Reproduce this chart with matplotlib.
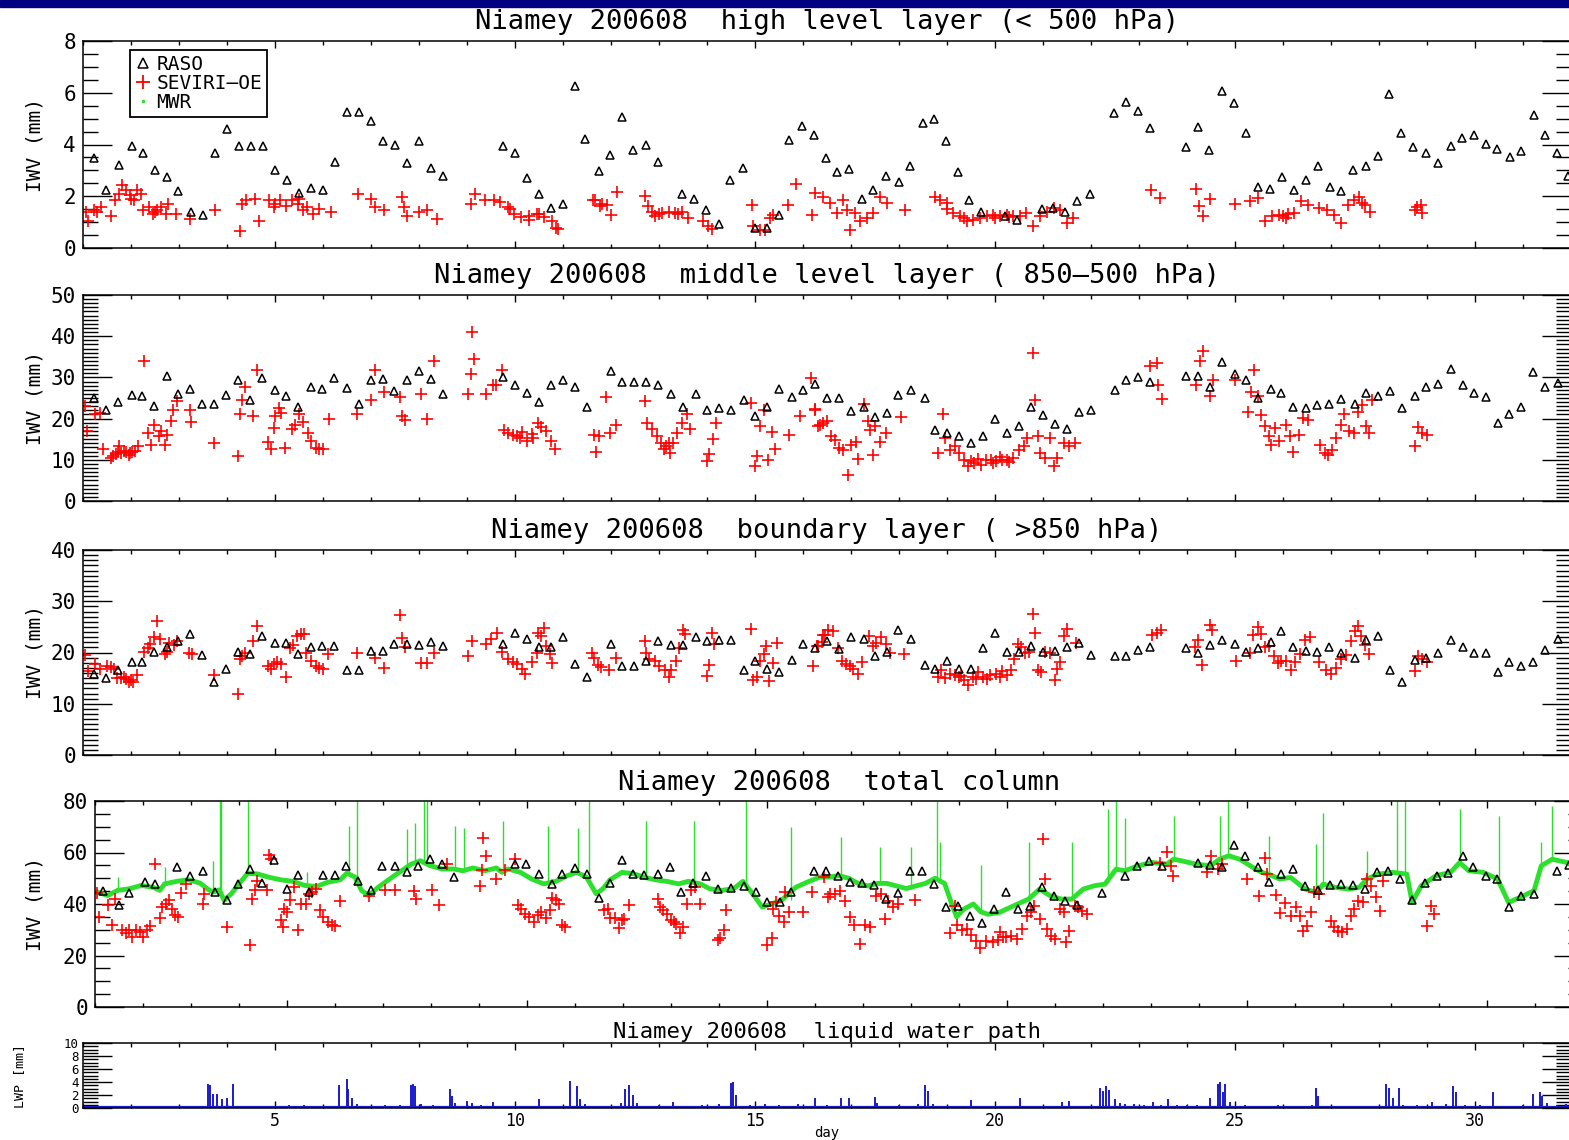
import numpy as np
import matplotlib.pyplot as plt
import matplotlib.transforms as mtransforms
from matplotlib.lines import Line2D
from matplotlib.patches import Rectangle
from matplotlib.ticker import MultipleLocator

plt.rcParams['font.family'] = ['DejaVu Sans Mono', 'DejaVu Sans']

# ---------------- data (day of August 2006, mm) ----------------
# high level layer (< 500 hPa)
hi_raso_day = [1.22, 1.48, 1.74, 2.02, 2.24, 2.49, 2.74, 2.98, 3.25, 3.5,
               3.74, 4.0, 4.25, 4.5, 4.74, 4.99, 5.25, 5.5, 5.76, 6.0,
               6.25, 6.5, 6.75, 7.0, 7.24, 7.5, 7.76, 8.0, 8.25, 8.5,
               9.74, 10.0, 10.25, 10.5, 10.75, 11.0, 11.24, 11.46, 11.74, 11.98,
               12.22, 12.46, 12.73, 12.97, 13.47, 13.73, 13.98, 14.24, 14.48, 14.74,
               15.0, 15.24, 15.5, 15.71, 15.97, 16.23, 16.48, 16.71, 16.96, 17.22,
               17.46, 17.73, 17.99, 18.23, 18.49, 18.73, 18.97, 19.22, 19.46, 19.71,
               20.21, 20.45, 20.97, 21.21, 21.46, 21.71, 21.98, 22.47, 22.73, 22.98,
               23.22, 23.98, 24.22, 24.46, 24.73, 24.98, 25.23, 25.47, 25.73, 25.98,
               26.23, 26.48, 26.73, 26.97, 27.21, 27.46, 27.72, 27.98, 28.21, 28.46,
               28.71, 28.98, 29.23, 29.5, 29.72, 29.97, 30.22, 30.46, 30.73, 30.96,
               31.22, 31.46, 31.71, 31.94]
hi_raso_val = [3.49, 2.26, 3.2, 3.95, 3.68, 3.03, 2.74, 2.2, 1.41, 1.29,
               3.66, 4.6, 3.95, 3.95, 3.95, 3.03, 2.63, 2.13, 2.3, 2.24,
               3.33, 5.26, 5.24, 4.9, 4.14, 3.99, 3.29, 4.14, 3.09, 2.8,
               3.95, 3.66, 2.7, 2.1, 1.55, 1.71, 6.25, 4.21, 2.96, 3.6,
               5.08, 3.77, 3.99, 3.31, 2.1, 1.89, 1.45, 0.94, 2.64, 3.09,
               0.77, 0.77, 1.29, 4.18, 4.72, 4.37, 3.47, 2.92, 3.05, 1.9,
               2.23, 2.77, 2.57, 3.15, 4.85, 4.98, 4.12, 2.92, 1.86, 1.38,
               1.22, 1.09, 1.5, 1.54, 1.38, 1.8, 2.1, 5.23, 5.63, 5.31,
               4.63, 3.92, 4.67, 3.77, 6.08, 5.62, 4.44, 2.35, 2.29, 2.74,
               2.25, 2.64, 3.18, 2.35, 2.19, 3.0, 3.15, 3.54, 5.95, 4.44,
               3.92, 3.67, 3.28, 3.95, 4.24, 4.37, 4.03, 3.83, 3.5, 3.73,
               5.14, 4.37, 3.69, 2.77]
hi_sev_day = [1.06, 1.1, 1.22, 1.38, 1.58, 1.66, 1.74, 1.82, 1.9, 1.98,
              2.06, 2.12, 2.26, 2.38, 2.46, 2.54, 2.62, 2.72, 2.78, 2.94,
              3.22, 3.75, 4.27, 4.31, 4.39, 4.59, 4.67, 4.87, 4.97, 5.11,
              5.23, 5.35, 5.47, 5.59, 5.67, 5.8, 5.92, 6.16, 6.72, 7.0,
              7.08, 7.28, 7.64, 7.68, 7.76, 8.0, 8.16, 8.37, 9.09, 9.17,
              9.37, 9.57, 9.69, 9.85, 9.97, 10.13, 10.29, 10.45, 10.61, 10.77,
              10.86, 10.9, 11.66, 11.82, 1.3, 2.0, 2.2, 2.5, 5.0, 5.5,
              9.9, 10.3, 10.5, 11.63, 11.77, 11.91, 12.01, 12.12, 12.71, 12.78,
              12.92, 13.06, 13.2, 13.33, 13.47, 13.61, 13.92, 14.03, 14.1, 14.93,
              14.96, 15.1, 15.21, 15.31, 15.38, 15.69, 15.86, 16.18, 16.25, 16.42,
              16.56, 16.7, 16.83, 16.91, 16.98, 17.08, 17.19, 17.33, 17.46, 17.6,
              17.74, 18.13, 18.75, 18.85, 18.99, 19.13, 19.27, 19.41, 19.55, 19.69,
              19.83, 19.96, 20.1, 20.24, 20.38, 20.52, 20.65, 20.79, 20.94, 21.08,
              21.22, 21.35, 21.49, 21.63, 23.24, 23.43, 24.19, 24.26, 24.33, 24.48,
              25.01, 25.32, 25.47, 25.62, 25.77, 25.92, 26.07, 26.23, 26.38, 26.53,
              26.75, 26.91, 27.06, 27.21, 27.36, 27.48, 27.59, 27.7, 27.81, 28.76,
              28.87, 28.9, 12.85, 13.0, 13.4, 19.0, 19.35, 20.0, 20.3, 26.0,
              26.1, 27.65, 28.8]
hi_sev_val = [1.38, 1.05, 1.45, 1.58, 1.25, 1.84, 2.1, 2.43, 2.24, 2.04,
              1.84, 2.24, 1.45, 1.58, 1.32, 1.45, 1.58, 1.32, 1.71, 1.32,
              1.12, 1.45, 0.66, 1.71, 1.84, 1.91, 1.05, 1.84, 1.58, 1.84,
              1.64, 1.84, 1.71, 1.45, 1.58, 1.32, 1.51, 1.38, 2.1, 1.91,
              1.58, 1.45, 1.97, 1.58, 1.25, 1.38, 1.45, 1.12, 1.71, 2.1,
              1.84, 1.84, 1.78, 1.58, 1.32, 1.18, 1.25, 1.32, 1.18, 1.05,
              0.79, 0.72, 1.84, 1.71, 1.4, 1.9, 2.1, 1.4, 1.7, 1.9,
              1.5, 1.1, 1.3, 1.86, 1.61, 1.67, 1.29, 2.15, 2.0, 1.61,
              1.22, 1.35, 1.41, 1.35, 1.41, 1.16, 1.03, 0.84, 0.73, 1.67,
              0.84, 0.71, 0.71, 1.16, 1.29, 1.67, 2.47, 1.29, 2.12, 1.99,
              1.74, 1.35, 1.86, 1.48, 0.68, 1.35, 1.03, 1.16, 1.35, 1.99,
              1.74, 1.45, 1.99, 1.86, 1.74, 1.35, 1.22, 1.03, 1.09, 1.16,
              1.22, 1.29, 1.22, 1.29, 1.25, 1.22, 1.35, 0.84, 1.22, 1.41,
              1.54, 1.48, 0.96, 1.16, 2.25, 1.93, 2.28, 1.61, 1.25, 1.89,
              1.71, 1.8, 1.93, 1.03, 1.22, 1.29, 1.16, 1.35, 1.8, 1.67,
              1.54, 1.48, 1.29, 0.96, 1.67, 1.86, 1.99, 1.67, 1.41, 1.48,
              1.67, 1.35, 1.4, 1.3, 1.3, 1.5, 1.15, 1.15, 1.2, 1.25,
              1.3, 1.75, 1.6]

# middle level layer (850-500 hPa)
mid_raso_day = [1.22, 1.48, 1.72, 2.02, 2.22, 2.48, 2.75, 2.98, 3.23, 3.48,
                3.72, 3.98, 4.23, 4.48, 4.73, 5.0, 5.23, 5.48, 5.75, 5.98,
                6.23, 6.5, 6.75, 7.0, 7.25, 7.48, 7.75, 8.0, 8.25, 8.5,
                9.75, 10.0, 10.25, 10.5, 10.75, 11.0, 11.25, 11.5, 12.0, 12.23,
                12.48, 12.73, 12.98, 13.25, 13.5, 13.77, 14.0, 14.25, 14.5, 14.77,
                15.0, 15.25, 15.5, 15.77, 16.0, 16.25, 16.49, 16.75, 17.0, 17.27,
                17.5, 17.74, 17.98, 18.26, 18.54, 18.76, 19.0, 19.25, 19.5, 19.75,
                20.0, 20.25, 20.5, 20.75, 21.0, 21.24, 21.49, 21.74, 21.99, 22.49,
                22.73, 22.98, 23.23, 23.98, 24.22, 24.47, 24.72, 25.0, 25.22, 25.47,
                25.74, 25.96, 26.21, 26.48, 26.71, 26.96, 27.21, 27.49, 27.72, 27.98,
                28.22, 28.48, 28.75, 28.98, 29.22, 29.5, 29.74, 29.97, 30.22, 30.47,
                30.71, 30.96, 31.2, 31.46, 31.73]
mid_raso_val = [25.0, 22.0, 24.0, 25.8, 25.4, 23.1, 30.4, 26.0, 27.2, 23.6,
                23.6, 25.8, 29.3, 24.6, 29.8, 26.9, 25.6, 22.8, 27.7, 27.2,
                29.8, 27.4, 23.6, 29.4, 29.6, 26.6, 29.4, 31.5, 29.6, 26.0,
                30.1, 28.1, 26.2, 24.0, 28.2, 29.3, 27.7, 22.8, 31.5, 29.0,
                29.0, 29.0, 28.2, 26.0, 22.8, 26.0, 22.0, 22.6, 22.0, 24.6,
                20.6, 22.8, 27.2, 25.2, 26.9, 28.4, 25.1, 25.1, 21.9, 22.7,
                20.5, 21.4, 25.7, 26.9, 25.1, 17.3, 16.6, 15.7, 14.1, 15.7,
                19.8, 16.6, 18.1, 22.9, 20.9, 18.7, 17.4, 21.7, 22.2, 26.9,
                29.3, 30.0, 28.9, 30.3, 30.3, 27.7, 33.7, 30.9, 29.3, 24.9,
                27.3, 26.1, 22.9, 22.5, 23.3, 23.5, 24.7, 23.5, 26.3, 25.5,
                26.7, 22.5, 25.5, 27.6, 28.5, 32.0, 28.1, 26.1, 25.3, 18.9,
                21.1, 22.9, 31.3, 27.7, 28.7]
mid_sev_day = [1.05, 1.08, 1.25, 1.35, 1.42, 1.58, 1.68, 1.75, 1.8, 1.9,
               1.98, 2.08, 2.15, 2.28, 2.35, 2.42, 2.48, 2.58, 2.62, 2.7,
               2.75, 2.83, 2.88, 2.95, 3.23, 3.25, 3.72, 4.23, 4.28, 4.32,
               4.38, 4.55, 4.63, 4.85, 4.92, 4.98, 5.0, 5.08, 5.12, 5.2,
               5.35, 5.42, 5.5, 5.58, 5.68, 5.75, 5.85, 5.92, 6.0, 6.13,
               6.7, 7.0, 7.08, 7.28, 7.6, 7.65, 7.7, 8.05, 8.17, 8.32,
               9.03, 9.08, 9.1, 9.15, 9.4, 9.55, 9.6, 9.73, 9.78, 9.85,
               9.95, 10.05, 10.15, 10.25, 10.38, 10.48, 10.55, 10.65, 10.75, 10.83,
               11.65, 11.68, 11.75, 11.9, 11.98, 12.1, 12.7, 12.75, 12.85, 12.95,
               13.05, 13.15, 13.22, 13.3, 13.38, 13.48, 13.58, 13.65, 14.0, 14.05,
               14.13, 14.18, 14.92, 15.0, 15.05, 15.1, 15.18, 15.28, 15.35, 15.42,
               15.7, 15.93, 16.17, 16.25, 16.35,
               16.26, 16.31, 16.41, 16.51, 16.59, 16.66, 16.76, 16.83, 16.93, 17.0,
               17.1, 17.15, 17.28, 17.35, 17.4, 17.45, 17.5, 17.6, 17.72, 18.05,
               18.81, 18.91, 18.96, 19.06, 19.16, 19.26, 19.36, 19.44, 19.56, 19.71,
               19.81, 19.91, 20.03, 20.15, 20.25, 20.37, 20.5, 20.6, 20.67, 20.8,
               20.84, 20.9, 20.94, 21.04, 21.14, 21.22, 21.29, 21.44, 21.54, 21.66,
               23.23, 23.37, 23.4, 23.48, 24.18, 24.28, 24.33, 24.47, 24.54, 25.0,
               25.27, 25.34, 25.4, 25.47, 25.54, 25.62, 25.7, 25.76, 25.84, 25.92,
               26.07, 26.14, 26.2, 26.34, 26.42, 26.52, 26.77, 26.87, 26.94, 27.02,
               27.1, 27.2, 27.27, 27.37, 27.47, 27.57, 27.64, 27.72, 27.8, 27.86,
               28.75, 28.82, 28.9, 29.0,
               19.5, 19.65, 19.95, 20.1, 20.3, 1.62, 1.72, 1.85, 1.95, 2.02,
               10.1, 10.35, 13.1, 13.2]
mid_sev_val = [23.0, 16.9, 21.0, 21.4, 12.7, 10.5, 11.3, 13.3, 11.7, 11.9,
               11.7, 12.1, 13.3, 33.9, 16.4, 13.7, 18.5, 15.7, 16.9, 13.7,
               16.1, 19.4, 22.2, 24.2, 22.0, 19.1, 14.0, 11.0, 21.2, 24.6,
               27.7, 20.7, 31.7, 14.3, 12.5, 17.7, 20.7, 22.6, 21.4, 12.9,
               17.5, 18.5, 21.0, 19.1, 16.5, 14.5, 12.9, 12.5, 12.7, 19.8,
               21.0, 24.6, 31.9, 26.4, 25.2, 20.6, 19.6, 26.0, 19.9, 33.9,
               26.0, 30.9, 41.1, 34.4, 26.0, 28.2, 28.2, 31.9, 17.3, 16.5,
               15.9, 15.7, 16.7, 14.5, 15.3, 19.0, 18.0, 16.9, 14.5, 12.5,
               16.1, 11.9, 15.7, 25.2, 16.5, 18.5, 24.2, 19.0, 17.5, 15.7,
               14.1, 13.3, 11.7, 14.1, 16.5, 19.0, 21.0, 17.5, 9.7, 11.5,
               15.1, 19.0, 23.8, 8.5, 10.9, 18.1, 22.2, 9.9, 16.7, 12.5,
               16.1, 20.6, 29.8, 22.3, 18.5,
               22.2, 18.1, 18.9, 19.3, 15.7, 14.9, 12.9, 12.4, 6.4, 13.7,
               14.2, 10.2, 23.5, 19.3, 17.3, 11.2, 18.1, 14.2, 16.6, 20.5,
               11.6, 21.1, 15.3, 12.4, 13.3, 11.6, 10.0, 8.4, 9.2, 8.8,
               10.0, 10.0, 9.6, 10.0, 9.9, 10.4, 12.4, 13.3, 15.3, 35.9,
               24.5, 15.7, 11.6, 10.4, 15.3, 8.4, 10.4, 14.1, 13.3, 14.1,
               32.7, 33.5, 28.1, 24.7, 28.1, 34.0, 36.5, 25.5, 29.3, 29.3,
               21.7, 26.5, 31.7, 25.5, 20.9, 18.2, 15.7, 13.7, 17.7, 14.5,
               18.5, 15.7, 12.0, 16.1, 20.1, 19.7, 13.7, 11.6, 11.2, 12.4,
               15.3, 18.5, 21.1, 16.9, 16.5, 21.7, 23.3, 18.1, 16.5, 24.5,
               13.3, 17.9, 16.5, 16.1,
               9.8, 10.2, 9.3, 10.6, 9.5, 11.0, 11.8, 12.2, 11.2, 11.9,
               15.2, 16.2, 12.6, 14.0]

# boundary layer (> 850 hPa)
bl_raso_day = mid_raso_day
bl_raso_val = [15.9, 15.0, 16.5, 18.2, 18.2, 20.1, 21.1, 22.2, 23.7, 19.5,
               14.2, 16.8, 20.1, 19.7, 23.3, 21.8, 21.8, 19.7, 21.0, 21.3,
               21.3, 16.5, 16.5, 20.3, 20.3, 21.6, 21.6, 21.4, 22.0, 21.3,
               21.6, 23.8, 22.7, 21.1, 21.0, 23.0, 17.8, 15.2, 21.6, 17.3,
               17.3, 18.4, 22.2, 21.4, 21.4, 23.0, 22.2, 22.4, 22.4, 16.5,
               18.4, 16.7, 16.2, 18.6, 21.6, 20.8, 22.2, 20.6, 23.0, 22.7,
               19.4, 20.1, 24.4, 22.7, 17.6, 16.7, 18.4, 16.8, 16.8, 20.8,
               23.8, 20.1, 20.1, 21.3, 20.1, 20.3, 21.1, 21.8, 19.5, 19.4,
               19.4, 20.5, 21.1, 20.8, 19.9, 21.4, 22.5, 21.6, 20.1, 20.8,
               22.0, 24.1, 21.1, 20.3, 20.1, 21.1, 19.9, 19.0, 22.5, 23.3,
               16.5, 14.3, 18.6, 18.9, 19.9, 22.5, 21.1, 20.0, 20.0, 16.1,
               18.1, 17.3, 18.2, 20.5, 22.7]
bl_sev_day = [1.05, 1.1, 1.25, 1.35, 1.5, 1.58, 1.65, 1.7, 1.8, 1.9,
              2.0, 2.05, 2.13, 2.28, 2.35, 2.4, 2.48, 2.55, 2.6, 2.7,
              2.75, 2.8, 2.9, 2.95, 3.2, 3.28, 3.72, 4.23, 4.28, 4.32,
              4.38, 4.55, 4.63, 4.85, 4.92, 4.98, 5.05, 5.12, 5.22, 5.32,
              5.38, 5.45, 5.55, 5.6, 5.65, 5.75, 5.85, 5.92, 6.0, 6.1,
              6.7, 7.08, 7.28, 7.6, 7.65, 7.7, 8.05, 8.17, 8.32, 9.03,
              9.1, 9.4, 9.5, 9.62, 9.73, 9.85, 9.95, 10.05, 10.15, 10.2,
              10.35, 10.45, 10.48, 10.55, 10.6, 10.65, 10.72, 10.78, 11.6, 11.65,
              11.72, 11.8, 11.95, 12.1, 12.7, 12.72, 12.8, 12.92, 13.0, 13.12,
              13.2, 13.25, 13.35, 13.42, 13.5, 13.55, 14.1, 14.05, 14.0, 14.15,
              14.92, 14.95, 15.05, 15.1, 15.18, 15.22, 15.3, 15.38, 15.45, 16.2,
              16.3, 16.4, 16.45,
              16.52, 16.62, 16.72, 16.82, 16.89, 16.97, 17.05, 17.15, 17.22, 17.37,
              17.45, 17.52, 17.62, 17.72, 17.82, 18.11, 18.81, 18.88, 18.96, 19.06,
              19.16, 19.25, 19.35, 19.43, 19.55, 19.65, 19.75, 19.83, 19.9, 20.03,
              20.15, 20.25, 20.33, 20.4, 20.47, 20.55, 20.63, 20.7, 20.8, 20.84,
              20.9, 20.96, 21.04, 21.14, 21.24, 21.29, 21.36, 21.44, 21.49, 21.69,
              23.28, 23.38, 23.45, 24.17, 24.22, 24.32, 24.47, 24.52, 25.02, 25.32,
              25.37, 25.47, 25.54, 25.62, 25.7, 25.82, 25.9, 25.96, 26.06, 26.16,
              26.26, 26.36, 26.46, 26.56, 26.76, 26.89, 27.01, 27.11, 27.21, 27.31,
              27.41, 27.51, 27.56, 27.63, 27.71, 27.79, 28.75, 28.82, 28.9, 29.0,
              16.32, 16.42, 19.3, 19.6, 20.1, 1.85, 1.95]
bl_sev_val = [19.5, 16.3, 17.8, 16.7, 17.3, 17.1, 16.7, 15.0, 15.0, 14.8,
              14.6, 14.2, 15.7, 20.1, 20.8, 21.6, 23.0, 26.2, 22.7, 19.7,
              20.1, 21.9, 21.4, 22.2, 20.0, 19.7, 15.6, 11.9, 18.7, 19.4,
              19.9, 22.2, 25.2, 17.3, 16.7, 17.8, 18.1, 17.8, 15.2, 20.8,
              21.4, 23.2, 23.7, 23.7, 20.0, 18.4, 17.3, 17.0, 16.7, 19.7,
              19.9, 19.0, 17.0, 27.3, 22.9, 21.0, 18.0, 18.0, 20.0, 19.4,
              22.2, 21.6, 22.7, 23.9, 20.1, 18.7, 18.1, 17.8, 16.8, 15.9,
              18.1, 20.0, 23.9, 23.3, 24.8, 21.3, 19.7, 18.0, 20.0, 19.0,
              17.5, 17.1, 16.5, 19.0, 22.2, 20.0, 18.7, 18.4, 17.3, 16.5,
              15.2, 16.5, 18.4, 20.8, 24.3, 23.7, 23.9, 17.5, 15.4, 21.6,
              24.6, 14.6, 15.2, 18.4, 19.7, 21.3, 14.4, 18.0, 21.9, 17.3,
              21.3, 22.0, 23.5,
              24.4, 24.1, 20.8, 18.4, 17.8, 17.3, 16.7, 15.9, 18.1, 23.3,
              21.3, 21.8, 23.0, 21.6, 19.9, 19.7, 15.2, 16.5, 15.0, 15.9,
              15.6, 15.2, 14.6, 13.7, 15.2, 16.2, 15.2, 14.9, 15.6, 15.9,
              16.3, 15.6, 16.5, 18.7, 21.6, 21.0, 20.0, 20.1, 27.6, 23.9,
              16.5, 16.2, 20.1, 20.0, 14.6, 16.7, 18.2, 23.3, 24.6, 21.9,
              23.5, 23.9, 24.3, 21.0, 22.4, 17.5, 25.4, 24.3, 18.4, 20.0,
              23.5, 25.0, 23.7, 21.0, 21.3, 19.4, 18.0, 18.4, 18.4, 16.5,
              18.1, 19.7, 22.5, 23.0, 18.1, 16.5, 15.9, 17.0, 18.7, 19.5,
              22.2, 24.1, 25.1, 23.2, 21.4, 19.7, 16.3, 19.4, 18.7, 18.1,
              21.3, 23.5, 15.5, 14.8, 15.2, 15.3, 14.2]

# total column
tot_raso_day = [1.17, 1.49, 1.71, 2.04, 2.24, 2.7, 2.98, 3.24, 3.49, 3.74,
                3.98, 4.23, 4.48, 4.72, 5.0, 5.22, 5.46, 5.76, 5.99, 6.23,
                6.48, 6.75, 6.97, 7.24, 7.49, 7.73, 7.98, 8.23, 8.47, 9.74,
                9.98, 10.25, 10.53, 10.73, 10.99, 11.24, 11.49, 11.73, 11.98, 12.21,
                12.44, 12.72, 12.97, 13.21, 13.46, 13.73, 13.98, 14.25, 14.53, 14.77,
                15.01, 15.27, 15.5, 15.98, 16.22, 16.47, 16.72, 16.97, 17.22, 17.47,
                17.72, 17.97, 18.22, 18.47, 18.72, 18.97, 19.22, 19.47, 19.72, 19.97,
                20.72, 20.97, 21.21, 21.46, 21.97, 22.46, 22.71, 22.95, 23.22, 23.97,
                24.22, 24.48, 24.72, 24.96, 25.22, 25.46, 25.71, 25.96, 26.2, 26.47,
                26.72, 26.96, 27.2, 27.45, 27.7, 27.94, 28.19, 28.43, 28.7, 28.95,
                29.19, 29.51, 29.7, 29.97, 30.2, 30.45, 30.7, 30.97, 31.46, 31.7,
                20.22, 20.47]
tot_raso_val = [45.0, 39.5, 44.2, 48.5, 47.6, 54.2, 51.0, 52.9, 44.6, 41.4,
                47.6, 53.6, 48.1, 57.1, 45.9, 51.4, 44.6, 51.4, 51.4, 54.9,
                48.8, 45.3, 54.9, 54.9, 52.3, 54.9, 57.4, 55.5, 50.4, 55.5,
                55.5, 51.6, 47.8, 51.7, 54.0, 51.7, 42.4, 48.1, 57.1, 51.7,
                51.4, 51.7, 54.2, 44.6, 48.1, 51.0, 45.9, 46.3, 46.8, 44.6,
                40.8, 40.8, 44.6, 52.9, 52.9, 50.8, 48.6, 48.0, 47.3, 42.1,
                44.3, 52.7, 52.8, 47.6, 39.0, 39.1, 35.4, 32.8, 37.9, 44.8,
                46.5, 43.0, 41.3, 39.6, 44.3, 51.0, 54.6, 56.8, 54.6, 55.9,
                55.1, 54.2, 62.8, 58.7, 54.2, 48.6, 51.6, 53.5, 46.8, 45.5,
                47.4, 47.7, 47.4, 45.8, 52.5, 52.9, 49.7, 41.7, 48.1, 51.0,
                52.0, 58.7, 54.2, 51.0, 49.7, 38.7, 43.0, 43.9, 52.9, 55.1,
                37.9, 39.3]
tot_sev_day = [1.05, 1.09, 1.27, 1.35, 1.42, 1.56, 1.64, 1.71, 1.78, 1.86,
               1.94, 2.01, 2.08, 2.14, 2.26, 2.35, 2.4, 2.47, 2.55, 2.6,
               2.67, 2.73, 2.8, 2.9, 3.24, 3.27, 3.74, 4.23, 4.28, 4.33,
               4.38, 4.58, 4.63, 4.67, 4.87, 4.92, 4.94, 5.0, 5.07, 5.14,
               5.22, 5.3, 5.4, 5.46, 5.53, 5.61, 5.69, 5.76, 5.86, 5.93,
               6.01, 6.11, 6.7, 7.04, 7.24, 7.64, 7.69, 8.03, 8.16, 8.33,
               9.02, 9.07, 9.09, 9.15, 9.36, 9.55, 9.74, 9.81, 9.88, 9.96,
               10.05, 10.15, 10.23, 10.3, 10.4, 10.47, 10.53, 10.6, 10.67, 10.73,
               10.8, 11.61, 11.68, 11.73, 11.83, 11.91, 11.98, 12.03, 12.13, 12.72,
               12.77, 12.84, 12.92, 13.0, 13.07, 13.11, 13.19, 13.26, 13.33, 13.41,
               13.51, 13.61, 13.98, 14.02, 14.1, 14.15, 15.0, 15.1, 15.12, 15.18,
               15.25, 15.35, 15.38, 15.45, 15.75, 15.94, 16.19, 16.28,
               16.32, 16.42, 16.52, 16.62, 16.72, 16.82, 16.93, 17.05, 17.15, 17.28,
               17.37, 17.45, 17.52, 17.62, 17.72, 18.08, 18.81, 18.91, 18.96, 19.06,
               19.16, 19.26, 19.36, 19.44, 19.56, 19.71, 19.81, 19.91,
               19.86, 19.97, 20.08, 20.2, 20.31, 20.42, 20.5, 20.57, 20.68, 20.76,
               20.8, 20.83, 20.91, 20.99, 21.1, 21.18, 21.22, 21.29, 21.41, 21.48,
               21.56, 21.67, 23.19, 23.34, 23.42, 23.45, 24.17, 24.25, 24.4, 24.48,
               24.99, 25.26, 25.38, 25.42, 25.61, 25.68, 25.8, 25.91, 26.02, 26.1,
               26.17, 26.25, 26.33, 26.4, 26.51, 26.74, 26.82, 26.89, 26.97, 27.08,
               27.16, 27.23, 27.31, 27.42, 27.5, 27.58, 27.69, 27.77, 27.84, 28.75,
               28.83, 28.9]
tot_sev_val = [44.2, 35.0, 39.5, 31.8, 42.1, 29.9, 28.6, 29.9, 27.3, 29.9,
               29.2, 27.3, 29.9, 31.4, 55.5, 34.4, 38.8, 40.1, 41.4, 38.2,
               35.6, 35.0, 44.2, 47.8, 40.1, 43.7, 31.2, 24.1, 42.1, 45.3,
               48.8, 45.3, 59.1, 57.4, 33.7, 31.2, 38.2, 36.9, 41.4, 46.5,
               29.9, 40.1, 40.1, 44.0, 44.6, 45.9, 37.6, 35.0, 33.1, 31.8,
               31.4, 41.2, 43.3, 45.3, 45.3, 45.0, 42.1, 45.3, 39.5, 55.5,
               46.8, 53.2, 65.8, 58.7, 49.7, 53.2, 57.4, 39.5, 38.2, 36.3,
               35.0, 33.1, 35.6, 36.9, 34.4, 37.6, 42.4, 41.7, 40.1, 31.8,
               31.2, 37.6, 38.2, 34.4, 34.7, 30.5, 33.7, 34.0, 39.5, 42.1,
               38.8, 37.6, 36.3, 33.7, 33.1, 32.4, 28.8, 31.2, 40.1, 45.3,
               46.5, 40.1, 26.0, 26.7, 29.9, 37.8, 24.1, 26.7, 38.2, 40.8,
               35.3, 33.1, 44.6, 36.9, 36.9, 44.6, 50.4, 42.7,
               44.0, 44.0, 45.0, 41.0, 35.0, 32.0, 24.5, 31.7, 31.0, 43.0,
               44.0, 34.0, 41.0, 39.0, 40.0, 41.7, 28.8, 39.4, 32.0, 29.8,
               30.3, 28.0, 25.7, 23.0, 25.5, 25.2, 26.0, 27.0,
               29.0, 27.1, 27.7, 26.5, 30.3, 35.5, 36.8, 39.4, 34.2, 65.2,
               49.7, 30.3, 27.7, 26.5, 38.1, 36.8, 25.2, 29.7, 39.4, 38.7,
               37.4, 36.1, 56.1, 60.3, 54.6, 51.0, 52.3, 58.7, 53.5, 55.5,
               49.7, 43.2, 57.7, 51.6, 43.5, 36.5, 40.4, 35.5, 38.7, 35.5,
               29.7, 31.6, 37.0, 44.5, 43.9, 33.5, 31.0, 29.7, 29.0, 30.3,
               35.5, 38.1, 41.3, 40.6, 49.7, 47.1, 42.6, 37.4, 49.0, 31.6,
               39.4, 36.1]

# microwave radiometer IWV (background level and short spikes)
mwr_day = [1.05, 1.27, 1.47, 1.71, 1.96, 2.21, 2.35, 2.45, 2.7, 2.95,
           3.19, 3.34, 3.46, 3.59, 3.69, 3.84, 4.03, 4.18, 4.38, 4.62,
           4.87, 5.12, 5.37, 5.61, 5.86, 6.11, 6.25, 6.42, 6.55, 6.7,
           6.9, 7.19, 7.44, 7.59, 7.78, 7.98, 8.23, 8.47, 8.67, 8.87,
           9.12, 9.36, 9.48, 9.61, 9.86, 10.1, 10.35, 10.6, 10.84, 11.04,
           11.24, 11.44, 11.58, 11.73, 11.98, 12.23, 12.44, 12.67, 12.91, 13.16,
           13.36, 13.61, 13.81, 14.05, 14.3, 14.5, 14.7, 14.9, 15.1, 15.3,
           15.6, 15.84, 16.09, 16.3, 16.5, 16.7, 16.9, 17.1, 17.3, 17.5,
           17.7, 17.9, 18.1, 18.3, 18.5, 18.7, 18.85, 18.95, 19.1, 19.3,
           19.45, 19.6, 19.85, 20.15, 20.45, 20.68, 20.9, 21.13, 21.35, 21.59,
           21.82, 22.04, 22.27, 22.46, 22.72, 23.02, 23.33, 23.47, 23.63, 23.93,
           24.24, 24.43, 24.62, 24.85, 25.07, 25.3, 25.45, 25.68, 25.91, 26.21,
           26.44, 26.59, 26.82, 27.12, 27.34, 27.5, 27.73, 28.03, 28.33, 28.44,
           28.63, 28.94, 29.24, 29.43, 29.62, 29.92, 30.22, 30.45, 30.76, 30.98,
           31.13, 31.36, 31.66, 31.95]
mwr_val = [44.6, 43.3, 45.3, 45.9, 47.2, 46.5, 45.3, 47.8, 48.8, 49.4,
           48.1, 45.9, 44.6, 45.5, 41.4, 44.0, 48.5, 51.9, 51.7, 50.4,
           49.4, 48.8, 47.2, 46.8, 48.5, 49.4, 52.0, 50.4, 45.3, 43.3,
           46.5, 50.4, 53.6, 55.5, 56.8, 54.9, 53.6, 53.6, 52.9, 54.0,
           52.9, 54.0, 52.3, 53.6, 52.3, 49.7, 47.8, 48.8, 51.0, 52.3,
           50.4, 44.0, 45.9, 49.4, 52.3, 51.7, 50.4, 49.4, 48.8, 47.8,
           48.8, 47.8, 45.9, 45.3, 45.9, 48.8, 44.0, 38.8, 40.1, 41.4,
           46.5, 48.5, 50.4, 50.5, 51.0, 50.0, 48.0, 47.0, 48.0, 48.0,
           47.0, 46.0, 47.0, 48.0, 50.0, 48.0, 40.0, 35.0, 38.0, 40.0,
           37.0, 36.0, 36.8, 39.4, 41.9, 45.8, 43.2, 41.9, 41.9, 45.8,
           47.1, 47.7, 53.5, 52.9, 54.8, 56.1, 55.5, 57.4, 56.8, 55.5,
           54.8, 57.4, 58.7, 57.4, 54.8, 52.3, 51.6, 49.7, 50.3, 45.8,
           44.5, 47.7, 46.5, 45.8, 46.5, 49.7, 51.6, 52.3, 51.6, 40.6,
           47.1, 51.0, 52.3, 56.1, 52.9, 52.3, 49.7, 40.6, 43.2, 45.2,
           54.8, 57.4, 56.1, 55.0]
spk_day = [1.47, 2.45, 3.46, 3.6, 3.63, 4.19, 5.41, 6.3, 6.46, 7.51,
           7.66, 7.85, 7.92, 8.49, 8.69, 9.51, 10.43, 11.06, 11.29, 12.47,
           13.48, 14.57, 15.49, 16.55, 17.35, 18.0, 18.6, 18.55, 19.45, 20.45,
           21.35, 22.1, 22.27, 22.46, 23.47, 24.43, 24.6, 25.45, 26.44, 26.59,
           27.5, 28.12, 28.3, 29.43, 30.26, 31.13, 31.36]
spk_lo = [45.3, 47.8, 44.6, 45.5, 45.5, 51.9, 47.2, 52.0, 50.4, 53.6,
          55.5, 56.8, 56.0, 53.6, 52.9, 52.3, 47.8, 52.3, 50.4, 50.4,
          48.8, 48.8, 41.4, 51.0, 48.0, 46.0, 50.0, 50.0, 37.0, 41.9,
          41.9, 48.0, 53.5, 52.9, 57.4, 57.4, 58.7, 51.6, 44.5, 47.7,
          49.7, 52.3, 51.6, 56.1, 49.7, 54.8, 57.4]
spk_hi = [50.4, 54.2, 56.8, 80, 80, 80, 52.3, 70.3, 80, 69.0,
          71.5, 80, 80, 70.3, 69.6, 72.2, 70.3, 69.6, 80, 72.2,
          72.2, 80, 70.0, 66.0, 62.0, 62.0, 64.0, 80, 55.0, 63.9,
          63.9, 76.8, 80, 73.5, 74.2, 74.2, 80, 66.5, 63.2, 75.5,
          60.6, 80, 80, 76.8, 74.2, 63.9, 78.0]

# liquid water path
lwp_day = [3.6, 3.64, 3.7, 3.8, 3.9, 4.0, 4.13, 4.3, 4.6, 5.0,
           5.3, 5.6, 6.33, 6.49, 6.53, 6.6, 6.7, 7.0, 7.3, 7.6,
           7.83, 7.88, 7.92, 8.05, 8.3, 8.64, 8.68, 8.75, 9.0, 9.1,
           9.3, 9.54, 10.2, 10.51, 10.9, 11.15, 11.3, 11.35, 11.45, 11.8,
           12.2, 12.3, 12.38, 12.45, 12.55, 13.0, 13.3, 13.6, 13.9, 14.25,
           14.5, 14.55, 14.6, 14.9, 15.2, 15.5, 15.9, 16.25, 16.5, 16.8,
           16.95, 17.5, 17.55, 18.0, 18.4, 18.55, 18.6, 18.7, 19.1, 19.5,
           20.0, 20.52, 21.0, 21.4, 21.55, 21.9, 22.19, 22.25, 22.32, 22.38,
           22.5, 22.6, 22.7, 22.9, 23.1, 23.3, 23.45, 23.6, 23.8, 24.0,
           24.2, 24.48, 24.64, 24.68, 24.75, 24.8, 24.9, 25.2, 25.5, 25.9,
           26.3, 26.6, 26.68, 26.72, 27.0, 27.5, 28.15, 28.2, 28.3, 28.42,
           28.5, 28.8, 29.1, 29.4, 29.55, 29.6, 29.8, 30.1, 30.38, 30.6,
           31.0, 31.2, 31.35, 31.4, 31.5, 31.7, 31.9]
lwp_val = [3.7, 3.5, 2.2, 2.2, 1.4, 1.5, 3.7, 0.3, 0.2, 0.3,
           0.4, 0.5, 3.5, 4.4, 3.0, 1.5, 0.6, 0.3, 0.4, 0.5,
           3.6, 3.7, 3.4, 0.6, 0.5, 2.9, 1.9, 0.8, 1.1, 0.8,
           0.4, 0.9, 0.3, 1.4, 0.3, 4.1, 3.4, 1.4, 0.6, 0.3,
           0.8, 3.0, 3.5, 2.0, 0.8, 0.4, 1.0, 0.3, 0.5, 0.6,
           3.8, 4.0, 2.0, 0.4, 0.6, 0.5, 0.6, 1.6, 0.4, 1.6,
           1.5, 1.7, 0.8, 0.5, 0.6, 3.6, 2.6, 0.6, 0.3, 1.3,
           0.3, 1.6, 0.3, 0.9, 1.1, 0.3, 3.1, 2.6, 3.4, 2.8,
           1.4, 0.8, 0.6, 0.6, 0.5, 0.9, 0.5, 1.4, 0.5, 0.4,
           0.4, 1.6, 3.7, 4.0, 2.5, 3.7, 0.9, 0.4, 0.3, 0.4,
           0.3, 0.5, 3.1, 1.9, 0.3, 0.3, 3.7, 3.1, 1.5, 3.1,
           0.5, 0.4, 0.9, 0.6, 3.4, 2.4, 0.4, 0.4, 2.4, 0.3,
           0.4, 2.2, 2.4, 1.9, 0.8, 0.5, 0.6]

TITLE = "Niamey 200608  "
RED = "#ff0000"
GREEN = "#2ee02e"
BLUE = "#1a1acc"

W, H = 1569, 1140
fig = plt.figure(figsize=(W / 100, H / 100), dpi=100)
fig.patches.append(Rectangle((0, 1 - 7 / H), 1, 7 / H, transform=fig.transFigure,
                             color="#000080", zorder=5))


def make_axes(left, top, bottom):
    # pixel box -> figure fraction; 48 px per day, 31 days
    return fig.add_axes([left / W, 1 - bottom / H, 31 * 48 / W, (bottom - top) / H])


def style(ax, ymax, ymaj, ymin, title, tsize=19.5, toff=19):
    ax.set_xlim(1, 32)
    ax.set_ylim(0, ymax)
    ax.xaxis.set_major_locator(MultipleLocator(5))
    ax.xaxis.set_minor_locator(MultipleLocator(1))
    ax.yaxis.set_major_locator(MultipleLocator(ymaj))
    ax.yaxis.set_minor_locator(MultipleLocator(ymin))
    ax.tick_params(which="both", direction="in", top=True, right=True, width=1.0)
    ax.tick_params(axis="x", which="major", length=5)
    ax.tick_params(axis="x", which="minor", length=3)
    ax.tick_params(axis="y", which="major", length=21)
    ax.tick_params(axis="y", which="minor", length=10.5)
    ax.tick_params(labelbottom=False, labelsize=15, pad=5)
    for s in ax.spines.values():
        s.set_linewidth(1.1)
    tr = mtransforms.offset_copy(ax.transAxes, fig=fig, y=toff, units="dots")
    ax.text(0.5, 1.0, title, transform=tr, ha="center", va="center", fontsize=tsize)


def layer(ax, rd, rv, sd, sv):
    ax.plot(sd, sv, ls="none", marker="+", ms=8.5, mew=1.2, color=RED)
    ax.plot(rd, rv, ls="none", marker="^", ms=6, mew=1.1, mfc="none", mec="black")


# panel 1: high level
ax1 = make_axes(83, 41, 248)
style(ax1, 8, 2, 0.5, TITLE + "high level layer (< 500 hPa)")
layer(ax1, hi_raso_day, hi_raso_val, hi_sev_day, hi_sev_val)
ax1.set_ylabel("IWV (mm)", fontsize=14)
ax1.yaxis.set_label_coords(-0.026, 0.5)
handles = [Line2D([], [], ls="none", marker="^", ms=7, mfc="none", mec="black", mew=1.1),
           Line2D([], [], ls="none", marker="+", ms=10, mew=1.3, color=RED),
           Line2D([], [], ls="none", marker=".", ms=3, color=GREEN)]
leg = ax1.legend(handles, ["RASO", "SEVIRI–OE", "MWR"], loc="upper left",
                 bbox_to_anchor=(0.0316, 0.957), borderaxespad=0, fontsize=14,
                 frameon=True, fancybox=False, edgecolor="black", framealpha=1,
                 handlelength=0.8, handletextpad=0.3, labelspacing=0.0, borderpad=0.25)
leg.get_frame().set_linewidth(1.3)

# panel 2: middle level
ax2 = make_axes(83, 295, 501)
style(ax2, 50, 10, 1, TITLE + "middle level layer ( 850–500 hPa)")
layer(ax2, mid_raso_day, mid_raso_val, mid_sev_day, mid_sev_val)
ax2.set_ylabel("IWV (mm)", fontsize=14)
ax2.yaxis.set_label_coords(-0.026, 0.5)

# panel 3: boundary layer
ax3 = make_axes(83, 550, 755)
style(ax3, 40, 10, 1, TITLE + "boundary layer ( >850 hPa)")
layer(ax3, bl_raso_day, bl_raso_val, bl_sev_day, bl_sev_val)
ax3.set_ylabel("IWV (mm)", fontsize=14)
ax3.yaxis.set_label_coords(-0.026, 0.5)

# panel 4: total column with MWR
ax4 = make_axes(95, 801, 1007)
style(ax4, 80, 20, 5, TITLE + "total column", toff=18)
ax4.plot(mwr_day, mwr_val, color=GREEN, lw=3.5, solid_joinstyle="round")
ax4.vlines(spk_day, spk_lo, spk_hi, color=GREEN, lw=1.0)
layer(ax4, tot_raso_day, tot_raso_val, tot_sev_day, tot_sev_val)
ax4.set_ylabel("IWV (mm)", fontsize=14)
ax4.yaxis.set_label_coords(-0.034, 0.5)

# panel 5: liquid water path
ax5 = make_axes(83, 1043, 1108)
style(ax5, 10, 2, 0.5, TITLE + "liquid water path", tsize=16, toff=11)
ax5.vlines(lwp_day, 0, lwp_val, color=BLUE, lw=1.4)
ax5.axhline(0.12, color=BLUE, lw=1.6)
ax5.tick_params(labelbottom=True)
ax5.tick_params(axis="x", labelsize=12, pad=3)
ax5.tick_params(axis="y", labelsize=9, pad=3)
ax5.set_xlabel("day", fontsize=10)
ax5.xaxis.set_label_coords(0.5, -0.27)
ax5.set_ylabel("LWP [mm]", fontsize=9.5)
ax5.yaxis.set_label_coords(-0.038, 0.5)

fig.savefig("out.png", dpi=100)
